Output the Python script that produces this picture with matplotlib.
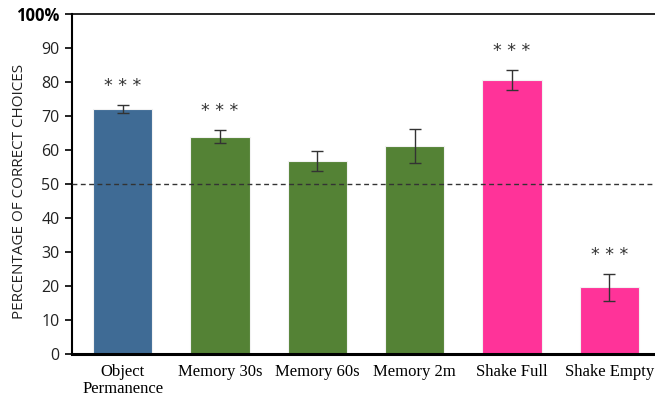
import matplotlib.pyplot as plt
import numpy as np

conditions = ["Object\nPermanence", "Memory 30s", "Memory 60s",
              "Memory 2m", "Shake Full", "Shake Empty"]
pct_correct = [72.1, 63.9, 56.8, 61.2, 80.6, 19.6]
sem = [1.2, 1.9, 3.0, 5.1, 3.0, 4.0]
significant = [True, True, False, False, True, True]
bar_colors = ["#3F6B95", "#548235", "#548235", "#548235", "#FF3399", "#FF3399"]
yticks = [0, 10, 20, 30, 40, 50, 60, 70, 80, 90, 100]
ytick_labels = ["0", "10", "20", "30", "40", "50", "60", "70", "80", "90", "100%"]
chance = 50

fig = plt.figure(figsize=(6.55, 4.01), dpi=100)
ax = fig.add_axes([0.110, 0.117, 0.89, 0.848])

x = np.arange(len(conditions))
ax.bar(x, pct_correct, width=0.61, color=bar_colors,
       edgecolor="#f2f2f2", linewidth=0.8, zorder=2)
ax.errorbar(x, pct_correct, yerr=sem, fmt="none", ecolor="#333333",
            elinewidth=1.0, capsize=4, capthick=1.0, zorder=3)

# significance stars above the error bars
for xi, v, e, sig in zip(x, pct_correct, sem, significant):
    if sig:
        ax.text(xi, v + e + 3.0, "* * *", ha="center", va="bottom",
                fontsize=12.5, color="#333333", family="DejaVu Sans")

ax.axhline(chance, color="#333333", linestyle=(0, (3.5, 2.5)),
           linewidth=1.0, zorder=4)

ax.set_xlim(-0.52, 5.47)
ax.set_ylim(0, 100)
ax.set_yticks(yticks)
ax.set_yticklabels(ytick_labels, family="Open Sans", fontsize=11.5,
                   color="#222222")
top_lbl = ax.get_yticklabels()[-1]
top_lbl.set_fontweight("bold")
top_lbl.set_fontsize(12)
top_lbl.set_color("black")
ax.set_xticks(x)
ax.set_xticklabels(conditions, family="Liberation Serif", fontsize=12,
                   linespacing=1.1)
ax.tick_params(axis="x", length=0, pad=7)
ax.tick_params(axis="y", length=5, width=1.2, direction="out", pad=4)

ax.set_ylabel("PERCENTAGE OF CORRECT CHOICES", family="Open Sans",
              fontsize=11, color="#222222")
ax.yaxis.set_label_coords(-0.077, 0.479)

ax.spines["right"].set_visible(False)
ax.spines["top"].set_linewidth(1.2)
ax.spines["left"].set_linewidth(1.5)
ax.spines["bottom"].set_linewidth(2.2)

fig.savefig("out.png", dpi=100)
